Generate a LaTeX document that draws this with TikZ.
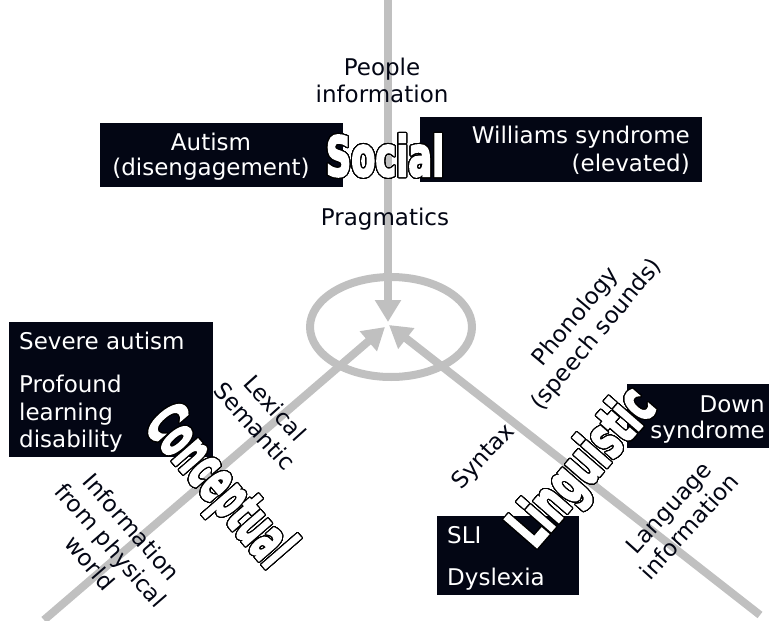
\documentclass[tikz,border=0pt]{standalone}
\usepackage{fontspec}
\setmainfont{DejaVu Sans}
\newfontfamily\heavyfont{DejaVu Sans}[BoldFeatures={FakeBold=4}]
\usepackage{contour}
\contournumber{48}
\contourlength{1.1pt}
\usetikzlibrary{arrows.meta}
\definecolor{ink}{RGB}{3,6,20}
\definecolor{axisgray}{RGB}{192,192,192}
\newcommand{\bigword}[2]{{\color{white}\contour{black}{\scalebox{#1}[1]{#2}}}}
\begin{document}
\begin{tikzpicture}[x=1pt,y=-1pt,
  lbl/.style={font=\fontsize{23}{27.5}\selectfont, text=ink, align=center, inner sep=0pt},
  boxtext/.style={font=\fontsize{23}{27.5}\selectfont, text=white, inner sep=0pt},
  darkbox/.style={fill=ink, draw=none, inner sep=0pt, rectangle},
  axisarrow/.style={draw=axisgray, line width=8pt, -{Triangle[length=22pt,width=25pt]}},
  bigtext/.style={font=\fontsize{#1}{#1}\selectfont\heavyfont\bfseries, inner sep=0pt}
]
\useasboundingbox (0,0) rectangle (769,621);

% dark boxes
\node[darkbox, minimum width=243pt, minimum height=64pt] (autismbox) at (221.5,155) {};
\node[darkbox, minimum width=282pt, minimum height=65pt] (willbox) at (561,149.5) {};
\node[darkbox, minimum width=204pt, minimum height=135pt] (sevbox) at (111,389.5) {};
\node[darkbox, minimum width=142pt, minimum height=64pt] (downbox) at (698,416) {};
\node[darkbox, minimum width=142pt, minimum height=79pt] (slibox) at (508,555.5) {};

% texts in boxes
\node[boxtext, align=center] (autismtext) at (211,156.5) {Autism\\[-2.5pt](disengagement)};
\node[boxtext, align=right, anchor=east] (willtext) at (690,150.3) {Williams syndrome\\(elevated)};
\node[boxtext, align=left, anchor=west] (sevtext) at (19,392.2) {Severe autism\\[15.5pt]Profound\\learning\\disability};
\node[boxtext, align=right, anchor=east] (downtext) at (765,419.3) {Down\\[-1.5pt]syndrome};
\node[boxtext, align=left, anchor=west] (slitext) at (447,558.3) {SLI\\[14.5pt]Dyslexia};

% axes
\coordinate (topend) at (388,0);
\coordinate (toptip) at (388,322);
\coordinate (leftend) at (44,620);
\coordinate (lefttip) at (385,327);
\coordinate (rightend) at (760,615);
\coordinate (righttip) at (389,325);
\draw[axisgray, line width=8pt] (391,327) ellipse [x radius=81, y radius=50];
\draw[axisarrow] (topend) -- (toptip);
\draw[axisarrow] (leftend) -- (lefttip);
\draw[axisarrow] (rightend) -- (righttip);

% plain labels
\node[lbl] (people) at (382,80.3) {People\\information};
\node[lbl] (pragmatics) at (385,219.3) {Pragmatics};
\node[lbl, rotate=-48] (lexsem) at (265,417) {Lexical\\Semantic};
\node[lbl, rotate=-49] (physinfo) at (111,545) {Information\\from physical\\world};
\node[lbl, rotate=50] (phon) at (586.5,326) {Phonology\\(speech sounds)};
\node[lbl, rotate=47] (syntax) at (484,457) {Syntax};
\node[lbl, rotate=48] (langinfo) at (679,517) {Language\\information};

% big outlined words
\node[bigtext=55] (social) at (385,156) {\bigword{0.64}{Social}};
\node[bigtext=60, rotate=-49] (conceptual) at (217.5,488) {\bigword{0.50}{Conceptual}};
\node[bigtext=58, rotate=49] (linguistic) at (584.5,469) {\bigword{0.59}{Linguistic}};
\end{tikzpicture}
\end{document}
